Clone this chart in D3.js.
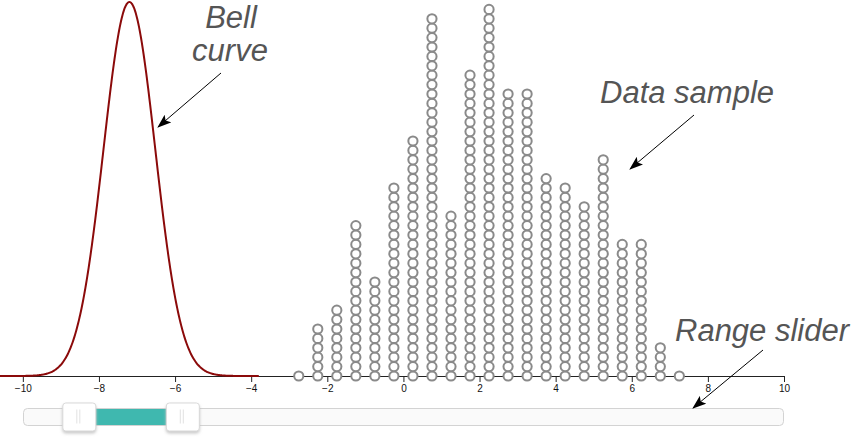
<!DOCTYPE html>
<html><head><meta charset="utf-8">
<script src="https://cdn.jsdelivr.net/npm/d3@7"></script>
<style>body{margin:0;background:#fff} svg{display:block}</style>
</head><body>
<svg id="c" width="852" height="441"></svg>
<script>
// ---- data ----
const binCenters = [-2.75,-2.25,-1.75,-1.25,-0.75,-0.25,0.25,0.75,1.25,1.75,2.25,2.75,3.25,3.75,4.25,4.75,5.25,5.75,6.25,6.75,7.25];
const binCounts  = [1,6,8,17,11,21,26,39,18,33,40,31,31,22,21,19,24,15,15,4,1];
const curveMean = -7.2;
const curveSd = 0.68;
const curveSpanSd = 5;
const sliderValues = [-8.52, -5.8];
const sliderRange = [-10, 10];
const xDomain = [-10.6, 10];
const tickValues = [-10,-8,-6,-4,-2,0,2,4,6,8,10];
const labelLines = [["Bell","curve"],["Data sample"],["Range slider"]];

// ---- layout ----
const svg = d3.select("#c");
const baseY = 376;
const x = d3.scaleLinear().domain(xDomain).range([0, 784]);
const dotStep = 9.4, dotR = 4.6;

const defs = svg.append("defs");
defs.append("marker").attr("id","arr").attr("viewBox","0 0 14 10")
  .attr("refX",13).attr("refY",5).attr("markerWidth",14).attr("markerHeight",10)
  .attr("markerUnits","userSpaceOnUse").attr("orient","auto")
  .append("path").attr("d","M0,0 L14,5 L0,10 L3,5 Z").attr("fill","#000");
const f = defs.append("filter").attr("id","hs").attr("x","-30%").attr("y","-30%").attr("width","160%").attr("height","180%");
f.append("feDropShadow").attr("dx",0).attr("dy",2).attr("stdDeviation",1.6).attr("flood-color","#bbb").attr("flood-opacity",0.8);

// bell curve
const pdf = v => Math.exp(-0.5*((v-curveMean)/curveSd)**2)/(curveSd*Math.sqrt(2*Math.PI));
const y = d3.scaleLinear().domain([0, pdf(curveMean)]).range([baseY, 2]);
const cx = d3.range(0, 401).map(i => curveMean - curveSpanSd*curveSd + i*(2*curveSpanSd*curveSd)/400);

// axis
const axisG = svg.append("g").attr("transform",`translate(0,${baseY})`)
  .call(d3.axisBottom(x).tickValues(tickValues).tickSizeOuter(0).tickFormat(d3.format("d")));
axisG.selectAll("text").attr("font-family","Liberation Sans, Arial, sans-serif").attr("font-size",10).attr("fill","#111");
axisG.select(".domain").attr("stroke","#222");
axisG.selectAll(".tick line").attr("stroke","#222");

svg.append("path").datum(cx)
  .attr("d", d3.line().x(d => x(d)).y(d => y(pdf(d))).curve(d3.curveBasis))
  .attr("fill","none").attr("stroke","#8b0a0a").attr("stroke-width",2);

// dots
const dots = [];
binCenters.forEach((c,i) => { for (let k=0;k<binCounts[i];k++) dots.push({c, k}); });
svg.append("g").selectAll("circle").data(dots).join("circle")
  .attr("cx", d => x(d.c)).attr("cy", d => baseY - d.k*dotStep).attr("r", dotR)
  .attr("fill","#fff").attr("stroke","#8a8a8a").attr("stroke-width",2);

// slider
const s = d3.scaleLinear().domain(sliderRange).range([23, 784]);
const sl = svg.append("g");
sl.append("rect").attr("x",s(sliderRange[0])+0.5).attr("y",408.5).attr("width",s(sliderRange[1])-s(sliderRange[0])-1).attr("height",17)
  .attr("rx",4).attr("fill","#fafafa").attr("stroke","#d3d3d3");
sl.append("rect").attr("x",s(sliderValues[0])).attr("y",409).attr("width",s(sliderValues[1])-s(sliderValues[0])).attr("height",16)
  .attr("fill","#3fb8af");
sliderValues.forEach(v => {
  const h = sl.append("g").attr("transform",`translate(${s(v)-17},402.5)`);
  h.append("rect").attr("x",0.5).attr("y",0.5).attr("width",33).attr("height",28).attr("rx",3)
    .attr("fill","#fff").attr("stroke","#d9d9d9").attr("filter","url(#hs)");
  [14.5,17.5].forEach(lx => h.append("line").attr("x1",lx).attr("x2",lx).attr("y1",7).attr("y2",21).attr("stroke","#e2e2e2"));
});

// annotations
const tf = "'Liberation Sans', Arial, Helvetica, sans-serif";
const t = svg.append("g").attr("font-family",tf).attr("font-style","italic").attr("font-size",31).attr("fill","#555");
t.append("text").attr("x",231).attr("y",28).attr("text-anchor","middle").text(labelLines[0][0]);
t.append("text").attr("x",230).attr("y",61).attr("text-anchor","middle").text(labelLines[0][1]);
t.append("text").attr("x",600).attr("y",103).text(labelLines[1][0]);
t.append("text").attr("x",675).attr("y",341).text(labelLines[2][0]);

const arrows = [[221,73,158,127],[694,115,630,169],[763,350,693,408]];
svg.append("g").selectAll("line").data(arrows).join("line")
  .attr("x1",d=>d[0]).attr("y1",d=>d[1]).attr("x2",d=>d[2]).attr("y2",d=>d[3])
  .attr("stroke","#000").attr("stroke-width",1).attr("marker-end","url(#arr)");
</script>
</body></html>
